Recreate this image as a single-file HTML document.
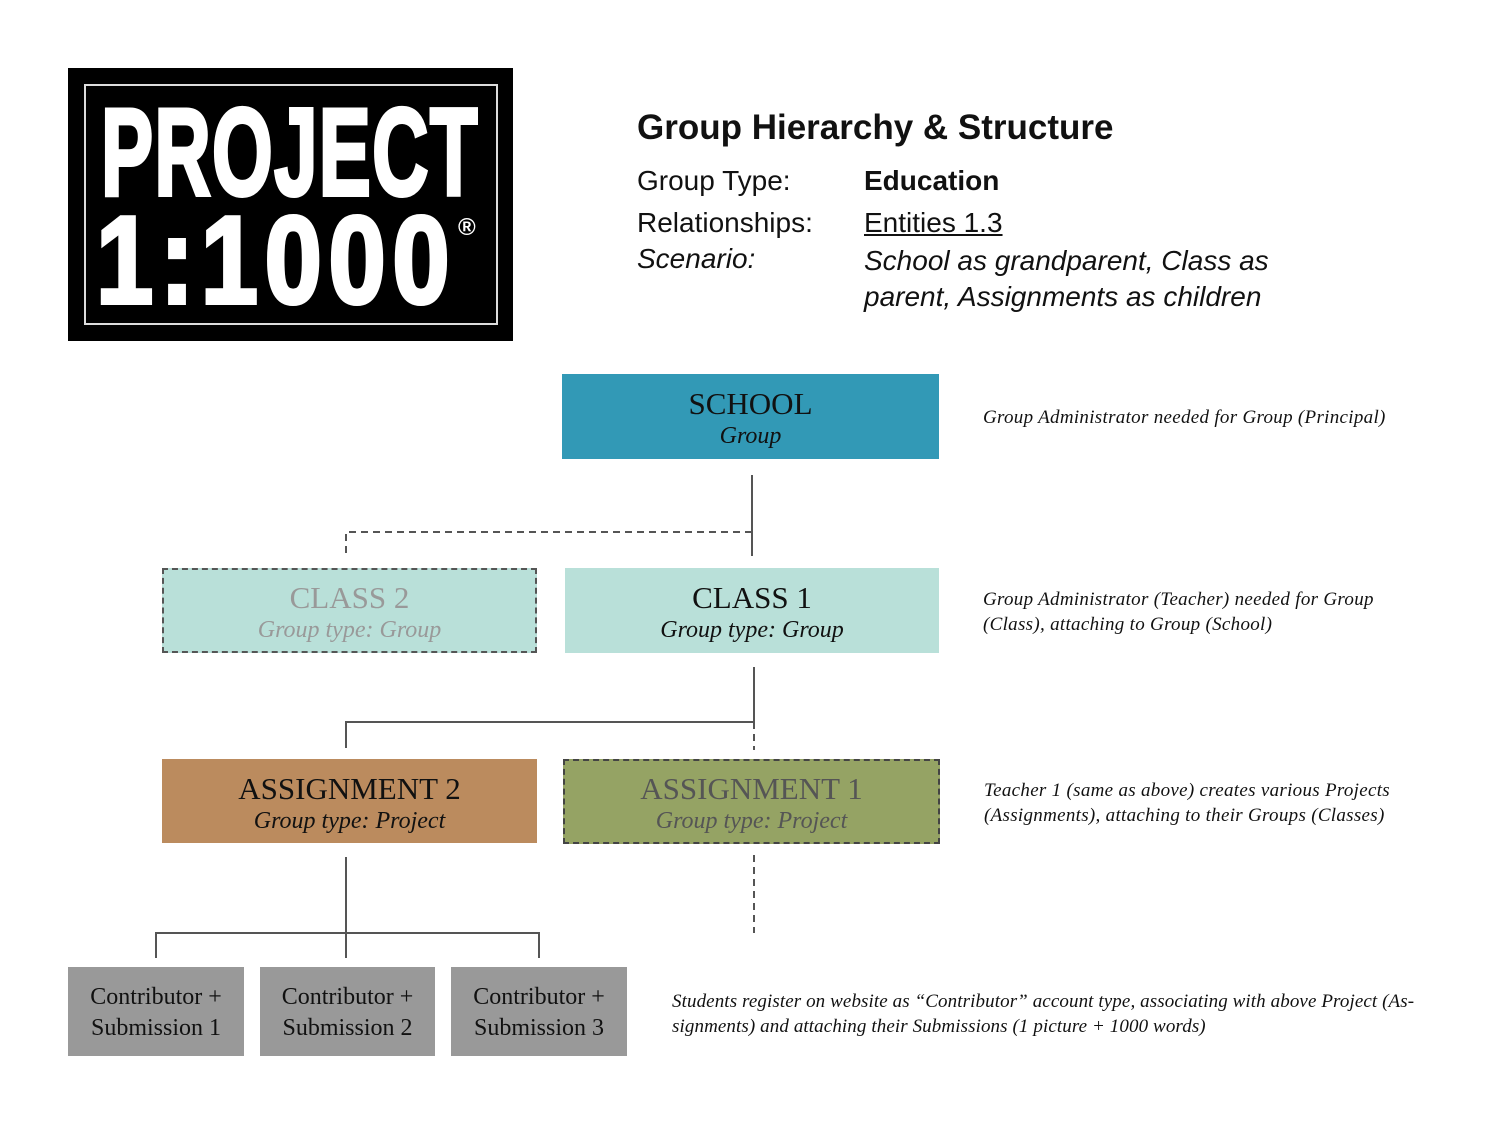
<!DOCTYPE html>
<html><head><meta charset="utf-8"><style>
body{margin:0;width:1500px;height:1125px;background:#fff;position:relative;overflow:hidden;font-family:"Liberation Serif",serif}
.a{position:absolute}
.box{position:absolute;box-sizing:border-box;text-align:center}
.t1{font-size:31px;line-height:34px;margin-top:13px}
.t2{font-size:24px;font-style:italic;line-height:30px}
.note{position:absolute;font-style:italic;font-size:19px;line-height:25px;color:#111;letter-spacing:0.3px}
.hd{position:absolute;font-family:"Liberation Sans",sans-serif;font-size:28px;color:#111}
.cb{font-size:24px;line-height:31px;padding-top:15px;color:#111}
.logo{position:absolute;color:#fff;font-family:'Liberation Sans',sans-serif;font-weight:bold;font-size:124px;line-height:124px;transform-origin:0 0;white-space:nowrap;-webkit-text-stroke:4px #fff}
</style></head><body>
<div class="a" style="left:68px;top:68px;width:445px;height:273px;background:#000"></div>
<div class="a" style="left:84px;top:84px;width:414px;height:241px;border:2px solid #ddd;box-sizing:border-box"></div>
<div class="logo" style="left:101px;top:91px;transform:scaleX(0.63);letter-spacing:2px">PROJECT</div>
<div class="logo" style="left:96px;top:199px;transform:scaleX(0.83);letter-spacing:8px">1:1000</div>
<div class="a" style="left:458px;top:214px;color:#fff;font-family:'Liberation Sans',sans-serif;font-size:24px;font-weight:bold">®</div>

<div class="hd" style="left:637px;top:108px;font-weight:bold;font-size:35px">Group Hierarchy &amp; Structure</div>
<div class="hd" style="left:637px;top:165px">Group Type:</div>
<div class="hd" style="left:864px;top:165px;font-weight:bold">Education</div>
<div class="hd" style="left:637px;top:207px">Relationships:</div>
<div class="hd" style="left:864px;top:207px;text-decoration:underline">Entities 1.3</div>
<div class="hd" style="left:637px;top:243px;font-style:italic">Scenario:</div>
<div class="hd" style="left:864px;top:243px;font-style:italic;line-height:36px">School as grandparent, Class as<br>parent, Assignments as children</div>

<svg class="a" style="left:0;top:0" width="1500" height="1125">
<g stroke="#555" stroke-width="2" fill="none">
<line x1="752" y1="475" x2="752" y2="556"/>
<path d="M752 532H346V558" stroke-dasharray="7,5"/>
<line x1="754" y1="667" x2="754" y2="722"/>
<path d="M754 722H346V748"/>
<line x1="754" y1="722" x2="754" y2="750" stroke-dasharray="7,5"/>
<line x1="754" y1="855" x2="754" y2="933" stroke-dasharray="7,5"/>
<line x1="346" y1="857" x2="346" y2="958"/>
<path d="M156 958V933H539V958"/>
</g></svg>

<div class="box" style="left:562px;top:374px;width:377px;height:85px;background:#3299b6;color:#111"><div class="t1">SCHOOL</div><div class="t2">Group</div></div>
<div class="box" style="left:162px;top:568px;width:375px;height:85px;background:#b9e0d9;border:2px dashed #555;color:#999"><div class="t1" style="margin-top:11px">CLASS 2</div><div class="t2">Group type: Group</div></div>
<div class="box" style="left:565px;top:568px;width:374px;height:85px;background:#b9e0d9;color:#111"><div class="t1">CLASS 1</div><div class="t2">Group type: Group</div></div>
<div class="box" style="left:162px;top:759px;width:375px;height:84px;background:#bb8b5e;color:#111"><div class="t1">ASSIGNMENT 2</div><div class="t2">Group type: Project</div></div>
<div class="box" style="left:563px;top:759px;width:377px;height:85px;background:#95a364;border:2px dashed #444;color:#555"><div class="t1" style="margin-top:11px">ASSIGNMENT 1</div><div class="t2">Group type: Project</div></div>

<div class="box cb" style="left:68px;top:967px;width:176px;height:89px;background:#999">Contributor +<br>Submission 1</div>
<div class="box cb" style="left:260px;top:967px;width:175px;height:89px;background:#999">Contributor +<br>Submission 2</div>
<div class="box cb" style="left:451px;top:967px;width:176px;height:89px;background:#999">Contributor +<br>Submission 3</div>

<div class="note" style="left:983px;top:405px">Group Administrator needed for Group (Principal)</div>
<div class="note" style="left:983px;top:587px">Group Administrator (Teacher) needed for Group<br>(Class), attaching to Group (School)</div>
<div class="note" style="left:984px;top:778px">Teacher 1 (same as above) creates various Projects<br>(Assignments), attaching to their Groups (Classes)</div>
<div class="note" style="left:672px;top:989px;letter-spacing:0.1px">Students register on website as “Contributor” account type, associating with above Project (As-<br>signments) and attaching their Submissions (1 picture + 1000 words)</div>
</body></html>
